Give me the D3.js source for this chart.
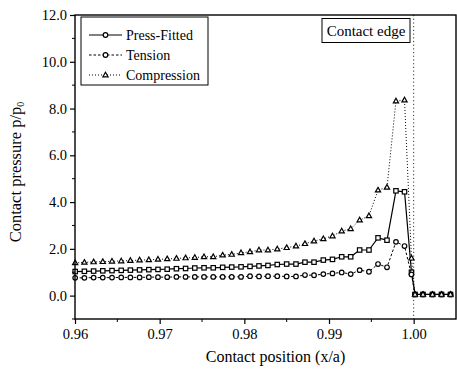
<!DOCTYPE html>
<html>
<head>
<meta charset="utf-8">
<script src="https://cdn.jsdelivr.net/npm/d3@7"></script>
<style>
  html, body { margin: 0; padding: 0; background: #fff; }
  svg { display: block; font-family: "Liberation Serif", "Times New Roman", serif; }
</style>
</head>
<body>
<div id="chart"></div>
<script>
const positions = [
  0.96002, 0.96111, 0.96220, 0.96328, 0.96437, 0.96546, 0.96654, 0.96763, 0.96872, 0.96980,
  0.97089, 0.97198, 0.97306, 0.97415, 0.97524, 0.97633, 0.97744, 0.97851, 0.97961, 0.98067,
  0.98173, 0.98279, 0.98389, 0.98500, 0.98610, 0.98716, 0.98823, 0.98933, 0.99041, 0.99150,
  0.99256, 0.99362, 0.99472, 0.99579, 0.99685, 0.99791, 0.99892, 0.99974, 1.00016, 1.00110,
  1.00222, 1.00329, 1.00435
];
const pressFitted = [
  1.03, 1.04, 1.05, 1.06, 1.07, 1.08, 1.09, 1.10, 1.11, 1.12,
  1.13, 1.15, 1.16, 1.18, 1.19, 1.19, 1.21, 1.22, 1.23, 1.25,
  1.27, 1.29, 1.33, 1.35, 1.35, 1.43, 1.43, 1.52, 1.55, 1.66,
  1.66, 1.95, 1.95, 2.47, 2.37, 4.48, 4.44, 1.00, 0.05, 0.05,
  0.05, 0.05, 0.05
];
const tension = [
  0.76, 0.76, 0.77, 0.77, 0.77, 0.78, 0.78, 0.78, 0.79, 0.79,
  0.79, 0.80, 0.80, 0.80, 0.80, 0.80, 0.80, 0.80, 0.80, 0.83,
  0.82, 0.83, 0.83, 0.82, 0.82, 0.88, 0.87, 0.92, 0.95, 0.99,
  0.92, 1.09, 1.02, 1.35, 1.21, 2.30, 2.12, 0.90, 0.05, 0.05,
  0.05, 0.05, 0.05
];
const compression = [
  1.40, 1.42, 1.44, 1.45, 1.47, 1.48, 1.50, 1.52, 1.53, 1.55,
  1.57, 1.59, 1.61, 1.63, 1.66, 1.66, 1.73, 1.76, 1.83, 1.87,
  1.95, 1.95, 1.99, 2.05, 2.12, 2.22, 2.33, 2.43, 2.55, 2.76,
  2.86, 3.23, 3.41, 4.51, 4.63, 8.32, 8.36, 1.60, 0.05, 0.05,
  0.05, 0.05, 0.05
];
const xTicks = [0.96, 0.97, 0.98, 0.99, 1.00];
const xMinorTicks = [0.965, 0.975, 0.985, 0.995];
const yTicks = [0, 2, 4, 6, 8, 10, 12];
const yMinorTicks = [-1, 1, 3, 5, 7, 9, 11];
const seriesNames = ["Press-Fitted", "Tension", "Compression"];
const contactEdge = 1.0;

const WIDTH = 457;
const HEIGHT = 370;
const PLOT = { left: 75, right: 456, top: 15, bottom: 319 };

const x = d3.scaleLinear().domain([0.96, 1.005]).range([PLOT.left, PLOT.right]);
const y = d3.scaleLinear().domain([-1, 12]).range([PLOT.bottom, PLOT.top]);

const STYLES = [
  { dash: null, marker: "square" },
  { dash: "2.5 2", marker: "circle" },
  { dash: "1 2", marker: "triangle" }
];

/**
 * Draws one marker shape at the given point.
 */
function drawMarker(g, kind, cx, cy) {
  if (kind === "square") {
    g.append("rect").attr("x", cx - 2.2).attr("y", cy - 2.2).attr("width", 4.4).attr("height", 4.4)
      .attr("fill", "#fff").attr("stroke", "#000").attr("stroke-width", 1.2);
  } else if (kind === "circle") {
    g.append("circle").attr("cx", cx).attr("cy", cy).attr("r", 2.3)
      .attr("fill", "#fff").attr("stroke", "#000").attr("stroke-width", 1.2);
  } else {
    g.append("path").attr("d", `M${cx},${cy - 2.8}L${cx + 2.6},${cy + 1.8}L${cx - 2.6},${cy + 1.8}Z`)
      .attr("fill", "#fff").attr("stroke", "#000").attr("stroke-width", 1.2);
  }
}

/**
 * Draws axes frame, ticks and labels.
 */
function renderAxes(svg) {
  const xAxis = d3.axisBottom(x).tickValues(xTicks).tickFormat(d3.format(".2f")).tickSize(5).tickPadding(5);
  const gx = svg.append("g").attr("transform", `translate(0,${PLOT.bottom})`).call(xAxis);
  const yAxis = d3.axisLeft(y).tickValues(yTicks).tickFormat(d3.format(".1f")).tickSize(5).tickPadding(3);
  const gy = svg.append("g").attr("transform", `translate(${PLOT.left},0)`).call(yAxis);
  [gx, gy].forEach((g) => {
    g.select(".domain").remove();
    g.selectAll("line").attr("stroke", "#000").attr("stroke-width", 1.2);
    g.selectAll("text").attr("fill", "#000").style("font-size", "14.5px")
      .style("font-family", "'Liberation Serif', serif");
  });

  svg.append("g").selectAll("line").data(xMinorTicks).join("line")
    .attr("x1", (d) => x(d)).attr("x2", (d) => x(d))
    .attr("y1", PLOT.bottom).attr("y2", PLOT.bottom + 3)
    .attr("stroke", "#000");
  svg.append("g").selectAll("line").data(yMinorTicks).join("line")
    .attr("x1", PLOT.left - 3).attr("x2", PLOT.left)
    .attr("y1", (d) => y(d)).attr("y2", (d) => y(d))
    .attr("stroke", "#000");

  svg.append("rect")
    .attr("x", PLOT.left).attr("y", PLOT.top)
    .attr("width", PLOT.right - PLOT.left).attr("height", PLOT.bottom - PLOT.top)
    .attr("fill", "none").attr("stroke", "#000").attr("stroke-width", 1.4);

  svg.append("text")
    .attr("x", (PLOT.left + PLOT.right) / 2 + 10).attr("y", 362)
    .attr("text-anchor", "middle").style("font-size", "16px").attr("fill", "#000")
    .text("Contact position (x/a)");

  const yl = svg.append("text")
    .attr("transform", `translate(21,${(PLOT.top + PLOT.bottom) / 2 + 5}) rotate(-90)`)
    .attr("text-anchor", "middle").style("font-size", "16.5px").attr("fill", "#000");
  yl.append("tspan").text("Contact  pressure  p/p");
  yl.append("tspan").attr("dy", 3).style("font-size", "10px").text("0");
}

/**
 * Draws the three pressure series.
 */
function renderSeries(svg) {
  [pressFitted, tension, compression].forEach((values, i) => {
    const pts = positions.map((p, j) => [x(p), y(values[j])]);
    svg.append("path")
      .attr("d", d3.line()(pts))
      .attr("fill", "none").attr("stroke", "#000").attr("stroke-width", i === 0 ? 1.2 : 1)
      .attr("stroke-dasharray", STYLES[i].dash);
    const g = svg.append("g");
    pts.forEach(([px, py]) => drawMarker(g, STYLES[i].marker, px, py));
  });
}

/**
 * Draws the contact edge line and its label box.
 */
function renderContactEdge(svg) {
  svg.append("line")
    .attr("x1", x(contactEdge)).attr("x2", x(contactEdge))
    .attr("y1", PLOT.top).attr("y2", PLOT.bottom)
    .attr("stroke", "#333").attr("stroke-width", 1).attr("stroke-dasharray", "1.2 2.5");
  svg.append("rect").attr("x", 322).attr("y", 18.5).attr("width", 88).attr("height", 24)
    .attr("fill", "#fff").attr("stroke", "#000").attr("stroke-width", 1);
  svg.append("text").attr("x", 366).attr("y", 36).attr("text-anchor", "middle")
    .style("font-size", "15px").attr("fill", "#000").text("Contact edge");
}

/**
 * Draws the legend box.
 */
function renderLegend(svg) {
  svg.append("rect").attr("x", 81).attr("y", 17).attr("width", 127).attr("height", 68)
    .attr("fill", "#fff").attr("stroke", "#000").attr("stroke-width", 1);
  seriesNames.forEach((name, i) => {
    const ly = 35 + i * 20;
    svg.append("line").attr("x1", 89).attr("x2", 122).attr("y1", ly).attr("y2", ly)
      .attr("stroke", "#000").attr("stroke-dasharray", STYLES[i].dash);
    const g = svg.append("g");
    drawMarker(g, i === 2 ? "triangle" : "circle", 105.5, ly);
    svg.append("text").attr("x", 126).attr("y", ly + 5)
      .style("font-size", "14px").attr("fill", "#000").text(name);
  });
}

const svg = d3.select("#chart").append("svg").attr("width", WIDTH).attr("height", HEIGHT);
renderContactEdge(svg);
renderSeries(svg);
renderAxes(svg);
renderLegend(svg);
</script>
</body>
</html>
